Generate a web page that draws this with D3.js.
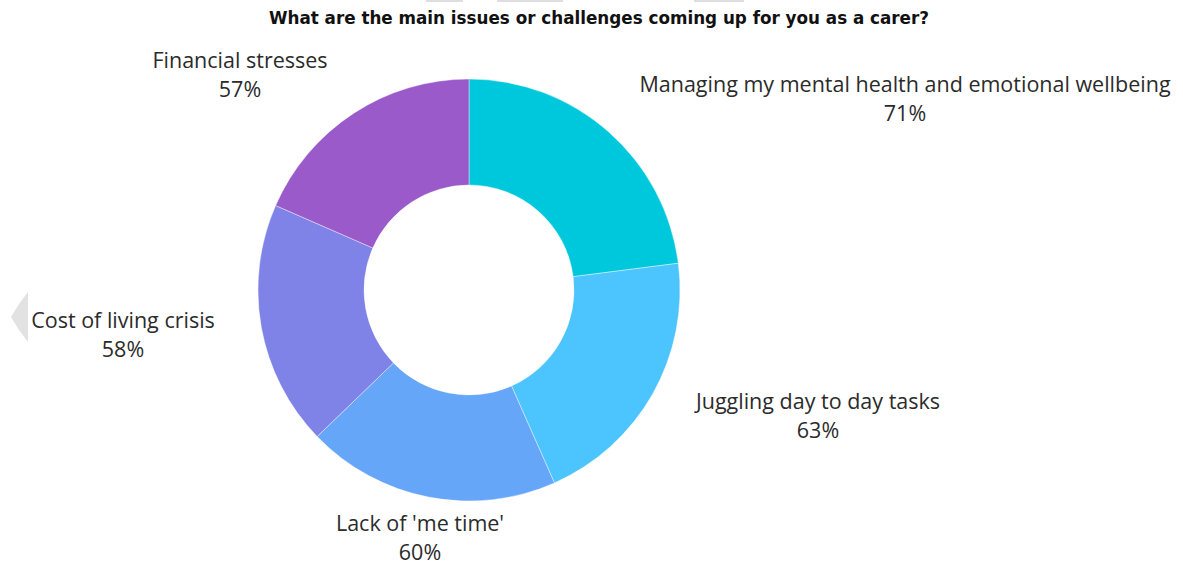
<!DOCTYPE html>
<html>
<head>
<meta charset="utf-8">
<script src="https://cdn.jsdelivr.net/npm/d3@7"></script>
<style>
  html, body { margin: 0; padding: 0; background: #ffffff; }
  svg { display: block; }
</style>
</head>
<body>
<svg id="chart" width="1183" height="566"></svg>
<script>
// Survey answers, share of carers naming each challenge
const categories = [
  "Managing my mental health and emotional wellbeing",
  "Juggling day to day tasks",
  "Lack of 'me time'",
  "Cost of living crisis",
  "Financial stresses"
];
const values = [71, 63, 60, 58, 57];
const valueLabels = ["71%", "63%", "60%", "58%", "57%"];
const sliceColors = ["#00c8dc", "#4cc4fe", "#66a6f8", "#7f82e6", "#9a5ac9"];

// Where each slice's caption sits (centre x, first baseline)
const labelAnchors = [
  [905, 92],
  [818, 409],
  [420, 531],
  [123, 328],
  [240, 68]
];

const svg = d3.select("#chart");
const cx = 469, cy = 290, outerR = 211, innerR = 105;

// Title
svg.append("text")
  .attr("x", 599)
  .attr("y", 24)
  .attr("text-anchor", "middle")
  .attr("font-family", "'Liberation Sans Narrow', 'DejaVu Sans Condensed', sans-serif")
  .attr("font-weight", 700)
  .attr("font-size", 17)
  .attr("fill", "#111")
  .attr("textLength", 660)
  .attr("lengthAdjust", "spacingAndGlyphs")
  .text("What are the main issues or challenges coming up for you as a carer?");

// Faint editor artefacts along the top edge and left side
const topBars = [[426, 37], [497, 66], [694, 50]];
svg.selectAll("rect.topbar").data(topBars).enter().append("rect")
  .attr("class", "topbar")
  .attr("x", d => d[0]).attr("y", 0)
  .attr("width", d => d[1]).attr("height", 2)
  .attr("fill", "#dedede");

svg.append("path")
  .attr("d", "M28,292 Q18,304 11,317 Q18,330 28,342 Z")
  .attr("fill", "#e2e2e2");

// Donut
const pie = d3.pie().sort(null).value(d => d);
const arc = d3.arc().innerRadius(innerR).outerRadius(outerR);

const g = svg.append("g").attr("transform", `translate(${cx},${cy})`);
g.selectAll("path")
  .data(pie(values))
  .enter().append("path")
  .attr("d", arc)
  .attr("fill", (d, i) => sliceColors[i])
  .attr("stroke", "#ffffff")
  .attr("stroke-width", 0.4);

// Captions
const labels = svg.selectAll("g.label")
  .data(categories)
  .enter().append("g")
  .attr("class", "label")
  .attr("transform", (d, i) => `translate(${labelAnchors[i][0]},${labelAnchors[i][1]})`);

labels.append("text")
  .attr("text-anchor", "middle")
  .attr("font-family", "'Open Sans', sans-serif")
  .attr("font-size", 21.5)
  .attr("fill", "#2b2b2b")
  .text(d => d);

labels.append("text")
  .attr("y", 29)
  .attr("text-anchor", "middle")
  .attr("font-family", "'Open Sans', sans-serif")
  .attr("font-size", 21.5)
  .attr("fill", "#2b2b2b")
  .text((d, i) => valueLabels[i]);
</script>
</body>
</html>
